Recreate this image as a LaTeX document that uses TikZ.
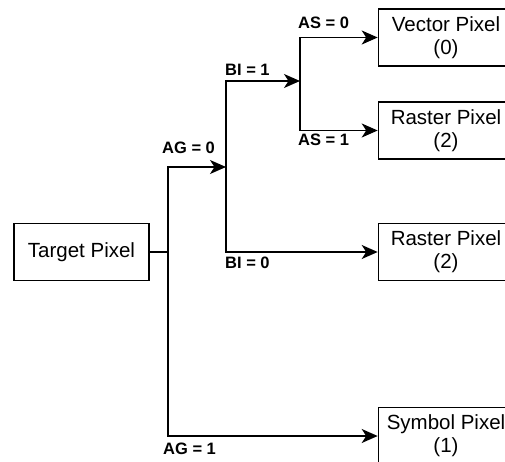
\documentclass[tikz,border=0pt]{standalone}
\usepackage{fontspec}
\setmainfont{Liberation Sans}
\usetikzlibrary{arrows.meta}
\begin{document}
\begin{tikzpicture}[x=1pt,y=-1pt,
  box/.style={draw, line width=1.6pt, minimum width=135pt, minimum height=57pt,
    inner sep=0pt, align=center, font=\fontsize{20.5}{23}\selectfont},
  arr/.style={line width=1.6pt, -{Stealth[length=16pt,width=14pt,inset=4.5pt]}},
  lbl/.style={anchor=west, inner sep=0pt, font=\fontsize{16.5}{18}\selectfont\bfseries}]
\useasboundingbox (0,0) rectangle (505,462);
\clip (0,0) rectangle (505,462);
\node[box] (t) at (81.5,252) {Target Pixel};
\node[box] (vec) at (446,37.5) {Vector Pixel\\(0)};
\node[box] (r1) at (446,130.5) {Raster Pixel\\(2)};
\node[box] (r2) at (446,252) {Raster Pixel\\(2)};
\node[box] (sym) at (446,436) {Symbol Pixel\\(1)};
\coordinate (j1) at (168,252);
\coordinate (j2) at (226,167);
\coordinate (j3) at (300,81);
\draw[line width=1.6pt] (t.east) -- (j1);
\draw[arr] (j1) |- (j2);
\draw[arr] (j2) |- (j3);
\draw[arr] (j3) |- (vec.west);
\draw[arr] (j3) |- (r1.west);
\draw[arr] (j2) |- (r2.west);
\draw[arr] (j1) |- (sym.west);
\node[lbl] (l1) at (298,23) {AS = 0};
\node[lbl] (l2) at (298,140) {AS = 1};
\node[lbl] (l3) at (225,70) {BI = 1};
\node[lbl] (l4) at (162,148) {AG = 0};
\node[lbl] (l5) at (225,263) {BI = 0};
\node[lbl] (l6) at (163,449) {AG = 1};
\end{tikzpicture}
\end{document}
